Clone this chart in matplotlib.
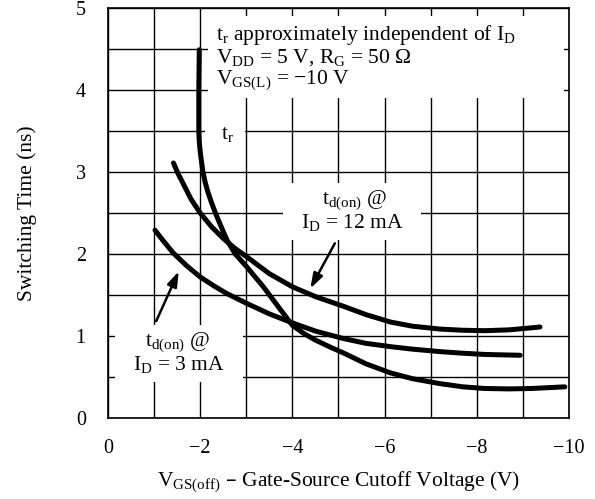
import numpy as np
import matplotlib
matplotlib.use('Agg')
import matplotlib.pyplot as plt
from matplotlib.patches import Rectangle

plt.rcParams['font.family'] = ['Liberation Serif', 'DejaVu Serif']
plt.rcParams['mathtext.default'] = 'regular'

# 读图得到的曲线数据 (V_GS(off), 开关时间 ns)
tr_v = [-1.98, -1.97, -1.97, -1.98, -2.0, -2.03, -2.06, -2.11, -2.17, -2.25, -2.33, -2.48, -2.58,
        -2.76, -3.0, -3.37, -3.73, -4.0, -4.25, -4.5, -4.8, -5.12, -5.6, -6.13, -6.6, -7.19,
        -7.7, -8.18, -8.7, -9.19, -9.91]
tr_t = [4.49, 4.0, 3.5, 3.37, 3.25, 3.12, 3.0, 2.87, 2.75, 2.62, 2.5, 2.3, 2.17,
        2.0, 1.85, 1.6, 1.33, 1.13, 1.03, 0.95, 0.87, 0.79, 0.66, 0.55, 0.48, 0.42,
        0.38, 0.36, 0.355, 0.36, 0.38]

td12_v = [-1.42, -1.52, -1.63, -1.8, -2.0, -2.25, -2.5, -2.75, -3.0, -3.5, -4.0, -4.5, -5.12,
          -5.6, -6.13, -6.6, -7.19, -7.7, -8.18, -8.7, -9.19, -9.37]
td12_t = [3.11, 2.98, 2.86, 2.67, 2.5, 2.33, 2.19, 2.07, 1.97, 1.76, 1.6, 1.48, 1.36,
          1.26, 1.17, 1.12, 1.085, 1.07, 1.065, 1.075, 1.10, 1.11]

td3_v = [-1.02, -1.2, -1.42, -1.7, -2.0, -2.3, -2.57, -3.0, -3.5, -4.0, -4.5, -5.1, -5.6,
         -6.13, -6.6, -7.19, -7.7, -8.18, -8.94]
td3_t = [2.29, 2.16, 2.01, 1.86, 1.72, 1.61, 1.52, 1.40, 1.27, 1.16, 1.06, 0.97, 0.91,
         0.87, 0.84, 0.81, 0.79, 0.775, 0.765]

x_ticks = [0, -2, -4, -6, -8, -10]
y_ticks = [0, 1, 2, 3, 4, 5]

fig = plt.figure(figsize=(5.95, 4.99), dpi=100)
ax = fig.add_axes([0.1815, 0.1623, 0.7748, 0.8217])
ax.set_xlim(0, -10)
ax.set_ylim(0, 5)
ax.set_xticks(x_ticks)
ax.set_xticklabels(['0' if v == 0 else '\u2212%d' % -v for v in x_ticks])
ax.set_xticks(np.arange(0, -10.5, -1), minor=True)
ax.set_yticks(y_ticks)
ax.set_yticks(np.arange(0, 5.01, 0.5), minor=True)
ax.tick_params(which='both', length=0, labelsize=14.5)
ax.tick_params(axis='x', pad=15)
ax.tick_params(axis='y', pad=16)
ax.set_axisbelow(True)
ax.grid(True, which='both', color='black', linewidth=1.0)
for s in ax.spines.values():
    s.set_linewidth(1.2)

# 白色遮挡块（文字底色）
masks = [(-2.17, 3.9, -7.73, 1.0), (-2.1, 3.4, -0.87, 0.2),
         (-3.8, 2.17, -3.0, 0.7), (-0.15, 0.44, -2.78, 0.69)]
for x0, y0, w, h in masks:
    ax.add_patch(Rectangle((x0, y0), w, h, facecolor='white', edgecolor='none', zorder=1))

lw = 3.6
for xs, ys in [(tr_v, tr_t), (td12_v, td12_t), (td3_v, td3_t)]:
    ax.plot(xs, ys, color='black', lw=lw, solid_capstyle='round',
            solid_joinstyle='round', zorder=2)

fs = 15.5
ax.text(-2.35, 4.67, '$t_r$ approximately independent of $I_D$', fontsize=fs, va='center', zorder=3)
ax.text(-2.35, 4.39, '$V_{DD}$ = 5 V, $R_G$ = 50 \u03a9', fontsize=fs, va='center', zorder=3)
ax.text(-2.35, 4.12, '$V_{GS(L)}$ = \u221210 V', fontsize=fs, va='center', zorder=3)
ax.text(-2.6, 3.46, '$t_r$', fontsize=fs, ha='center', va='center', zorder=3)

ax.text(-5.36, 2.66, '$t_{d(on)}$ @', fontsize=fs, ha='center', va='center', zorder=3)
ax.text(-5.3, 2.38, '$I_D$ = 12 mA', fontsize=fs, ha='center', va='center', zorder=3)
ax.text(-1.5, 0.93, '$t_{d(on)}$ @', fontsize=fs, ha='center', va='center', zorder=3)
ax.text(-1.54, 0.65, '$I_D$ = 3 mA', fontsize=fs, ha='center', va='center', zorder=3)

arrow = dict(arrowstyle='-|>,head_length=0.9,head_width=0.3', color='black', lw=1.8)
ax.annotate('', xy=(-4.36, 1.55), xytext=(-4.95, 2.16), arrowprops=arrow, zorder=3)
ax.annotate('', xy=(-1.56, 1.82), xytext=(-1.02, 1.15), arrowprops=arrow, zorder=3)

ax.set_ylabel('Switching Time (ns)', fontsize=fs, labelpad=28)
ax.set_xlabel('$V_{GS(off)}$ \u2013 Gate-Source Cutoff Voltage (V)', fontsize=fs, labelpad=8)

fig.savefig('out.png', dpi=100)
